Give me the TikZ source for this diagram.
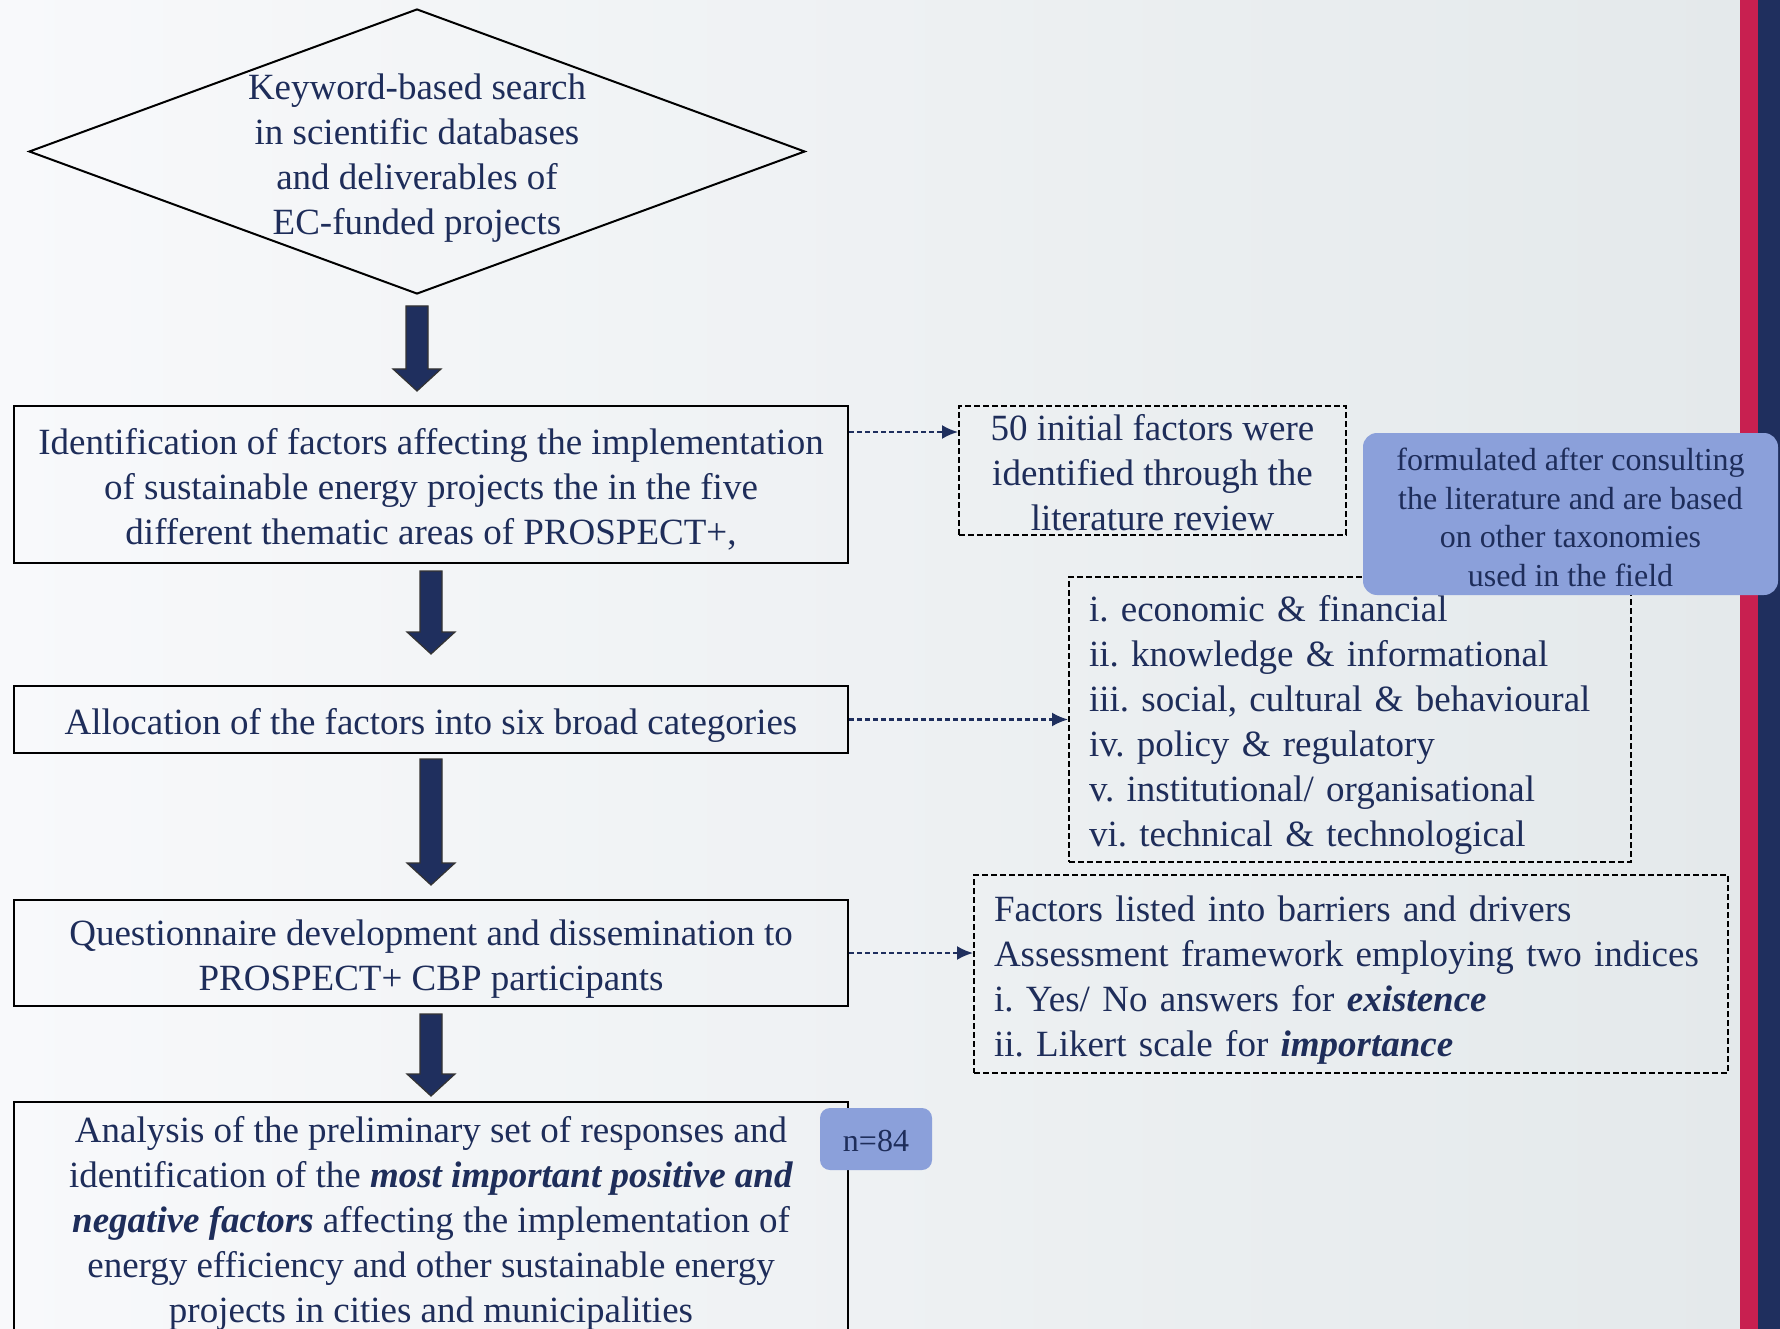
\documentclass[tikz,border=0pt]{standalone}
\usepackage{fontspec}
\setmainfont{Liberation Serif}
\usetikzlibrary{shapes.geometric,arrows.meta,calc}
\definecolor{navy}{RGB}{31,47,94}
\definecolor{txt}{RGB}{30,45,90}
\definecolor{stripered}{RGB}{200,32,80}
\definecolor{bluebox}{RGB}{139,160,218}
\definecolor{bgl}{RGB}{248,249,251}
\definecolor{bgr}{RGB}{228,233,235}
\frenchspacing
\newcommand\lineup[1]{\rule{0pt}{#1}}
\tikzset{
 txtdown/.style={execute at begin node={\rule{0pt}{#1}}},
 mainbox/.style={draw=black, line width=2pt, minimum width=834pt, inner sep=0pt, align=center, text=txt, font=\fontsize{37}{45}\selectfont},
 dbox/.style={draw=black, line width=2pt, dash pattern=on 6pt off 3pt, inner sep=0pt, text=txt, font=\fontsize{37}{45}\selectfont},
 bluenote/.style={fill=bluebox, draw=none, rounded corners=14pt, text=txt, font=\fontsize{32}{38.5}\selectfont, align=center, inner sep=0pt},
 darr/.style={draw=navy, line width=2.2pt, dash pattern=on 5pt off 3pt, -{Latex[length=16pt,width=14pt]}},
 blk/.style={fill=navy, draw=black!80, line width=1.2pt},
}
\newcommand\barrow[3]{\filldraw[blk] ({#1-11},#2) -- ({#1+11},#2) -- ({#1+11},{#3-22}) -- ({#1+24},{#3-22}) -- (#1,#3) -- ({#1-24},{#3-22}) -- ({#1-11},{#3-22}) -- cycle;}
\begin{document}
\begin{tikzpicture}[x=1pt,y=-1pt]
\useasboundingbox (0,0) rectangle (1780,1329);
\clip (0,0) rectangle (1780,1329);
\shade[left color=bgl, right color=bgr] (0,0) rectangle (1740,1329);
\fill[stripered] (1740,0) rectangle (1758,1329);
\fill[navy] (1758,0) rectangle (1780,1329);
% diamond
\node[diamond, draw=black, line width=2pt, minimum width=776pt, minimum height=285pt, inner sep=0pt] (d) at (417,151.5) {};
\node[align=center, text=txt, font=\fontsize{37}{45}\selectfont, inner sep=0pt] (dt) at (417,158) {Keyword-based search\\in scientific databases\\and deliverables of\\EC-funded projects};
% main boxes
\node[mainbox, minimum height=157pt] (b1) at (431,484.5) {\lineup{36pt}Identification of factors affecting the implementation\\of sustainable energy projects the in the five\\different thematic areas of PROSPECT+,};
\node[mainbox, minimum height=67pt, txtdown=37pt] (b2) at (431,719.5) {Allocation of the factors into six broad categories};
\node[mainbox, minimum height=106pt] (b3) at (431,953) {\lineup{37pt}Questionnaire development and dissemination to\\PROSPECT+ CBP participants};
\node[mainbox, minimum height=232pt] (b4) at (431,1218) {\lineup{37pt}Analysis of the preliminary set of responses and\\identification of the \textbf{\textit{most important positive and}}\\\textbf{\textit{negative factors}} affecting the implementation of\\energy efficiency and other sustainable energy\\projects in cities and municipalities};
% block arrows
\barrow{417}{306}{391}
\barrow{431}{571}{654}
\barrow{431}{759}{885}
\barrow{431}{1014}{1096}
% dashed boxes
\node[dbox, align=center, minimum width=387pt, minimum height=129pt] (bA) at (1152.5,470.5) {\lineup{30pt}50 initial factors were\\identified through the\\literature review};
\node[dbox, align=left, text width=522pt, inner xsep=20pt, minimum height=285pt, txtdown=37pt] (bB) at (1350,719.5) {i. economic \& financial\\ii. knowledge \& informational\\iii. social, cultural \& behavioural\\iv. policy \& regulatory\\v. institutional/ organisational\\vi. technical \& technological};
\node[dbox, align=left, text width=714pt, inner xsep=20pt, minimum height=198pt, txtdown=37pt] (bC) at (1351,974) {Factors listed into barriers and drivers\\Assessment framework employing two indices\\i. Yes/ No answers for \textbf{\textit{existence}}\\ii. Likert scale for \textbf{\textit{importance}}};
% dashed arrows
\draw[darr] ($(b1.north east)+(0,27)$) -- ($(bA.north west)+(0,27)$);
\draw[darr] (b2.east) -- (bB.west);
\draw[darr] (b3.east) -- (b3.east -| bC.west);
% blue notes
\node[bluenote, minimum width=415pt, minimum height=162pt] (note) at (1570.5,514) {\lineup{29pt}formulated after consulting\\the literature and are based\\on other taxonomies\\used in the field};
\node[bluenote, rounded corners=10pt, minimum width=112pt, minimum height=62pt, txtdown=26pt] (n84) at (876,1139) {n=84};
\end{tikzpicture}
\end{document}
